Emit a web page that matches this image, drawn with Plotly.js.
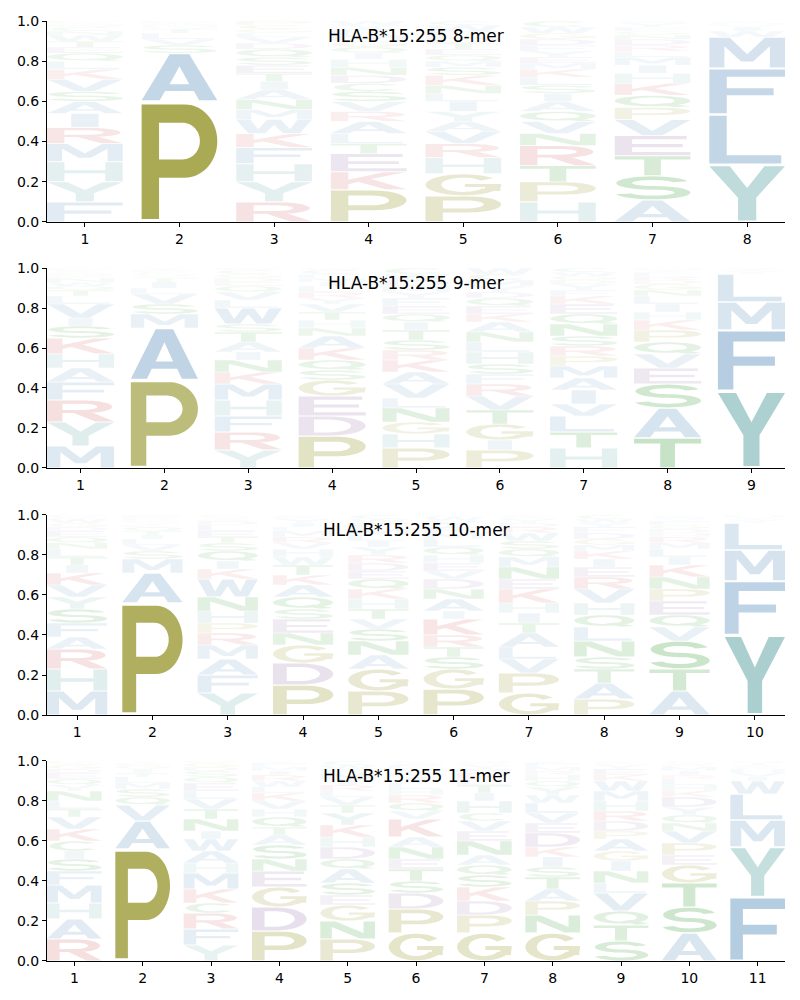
<!DOCTYPE html>
<html><head><meta charset="utf-8">
<script src="https://cdn.plot.ly/plotly-3.0.1.min.js"></script>
<style>body{margin:0;background:#fff}#chart{width:800px;height:1000px}</style>
</head><body><div id="chart"></div>
<script>
// ---------- data: per position, letters listed bottom -> top with frequency ----------
const titles = ['HLA-B*15:255 8-mer','HLA-B*15:255 9-mer','HLA-B*15:255 10-mer','HLA-B*15:255 11-mer'];

const mer8 = [
 [['F',.10],['Y',.10],['H',.10],['M',.09],['R',.08],['I',.07],['A',.06],['S',.05],['V',.06],['K',.05],['L',.04],['Q',.04],['E',.03],['T',.03],['W',.03],['N',.02],['C',.02],['D',.01],['G',.01],['P',.01]],
 [['P',.60],['A',.24],['S',.04],['V',.03],['L',.03],['T',.02],['Q',.01],['M',.01],['G',.01],['E',.01]],
 [['R',.10],['Y',.10],['H',.09],['F',.08],['K',.07],['W',.07],['M',.05],['N',.05],['A',.05],['I',.04],['T',.04],['E',.04],['S',.04],['Q',.04],['D',.03],['V',.03],['L',.02],['G',.02],['C',.02],['P',.02]],
 [['P',.16],['K',.09],['E',.09],['T',.05],['L',.05],['A',.06],['R',.05],['V',.05],['S',.05],['C',.04],['D',.04],['N',.04],['H',.04],['I',.03],['Q',.03],['G',.03],['M',.03],['F',.03],['Y',.02],['W',.02]],
 [['P',.13],['G',.11],['H',.08],['R',.07],['V',.06],['A',.05],['Y',.05],['I',.05],['L',.04],['N',.04],['K',.05],['S',.04],['M',.03],['Q',.03],['E',.03],['T',.03],['D',.03],['F',.03],['W',.03],['C',.02]],
 [['H',.10],['P',.10],['T',.08],['R',.10],['N',.06],['V',.06],['Q',.05],['A',.05],['I',.04],['S',.04],['L',.04],['K',.04],['M',.03],['E',.03],['Y',.03],['F',.03],['D',.03],['G',.03],['W',.03],['C',.03]],
 [['A',.11],['S',.12],['T',.10],['E',.10],['V',.08],['P',.06],['Q',.06],['K',.06],['H',.05],['I',.04],['M',.04],['L',.03],['R',.03],['D',.03],['N',.02],['G',.02],['F',.02],['Y',.02],['W',.01]],
 [['Y',.285],['L',.25],['F',.23],['M',.155],['W',.03],['I',.02],['V',.01],['H',.01],['C',.01]]
];
const mer9 = [
 [['M',.11],['Y',.12],['R',.11],['F',.09],['A',.07],['H',.07],['K',.08],['S',.06],['I',.04],['V',.07],['L',.04],['T',.03],['Q',.02],['W',.02],['N',.02],['E',.01],['D',.01],['G',.01],['C',.01],['P',.01]],
 [['P',.44],['A',.26],['M',.07],['S',.05],['V',.05],['L',.03],['I',.03],['T',.02],['G',.01],['Q',.01],['C',.01],['F',.01],['Y',.01]],
 [['Y',.09],['R',.09],['F',.08],['H',.08],['M',.08],['K',.06],['N',.06],['I',.04],['A',.05],['T',.05],['S',.04],['W',.08],['L',.04],['V',.04],['Q',.03],['E',.02],['D',.02],['G',.02],['C',.02],['P',.01]],
 [['P',.16],['D',.10],['E',.10],['G',.08],['S',.05],['Q',.05],['K',.06],['A',.06],['N',.04],['H',.04],['T',.04],['V',.04],['Y',.03],['R',.03],['L',.03],['I',.02],['M',.02],['F',.02],['C',.02],['W',.01]],
 [['P',.10],['H',.07],['G',.06],['N',.07],['L',.05],['V',.07],['A',.06],['K',.06],['R',.05],['S',.05],['T',.05],['I',.04],['Q',.04],['E',.04],['F',.04],['Y',.03],['M',.03],['D',.03],['W',.03],['C',.03]],
 [['P',.09],['I',.05],['G',.08],['T',.07],['V',.07],['R',.06],['F',.05],['S',.05],['H',.06],['L',.05],['N',.05],['A',.05],['K',.04],['E',.04],['Q',.04],['D',.03],['Y',.03],['M',.03],['C',.03],['W',.03]],
 [['H',.10],['T',.08],['L',.08],['V',.06],['I',.07],['A',.06],['M',.06],['P',.05],['R',.05],['S',.05],['N',.06],['Q',.05],['E',.05],['K',.04],['F',.03],['Y',.03],['D',.02],['G',.02],['W',.02],['C',.02]],
 [['T',.15],['A',.15],['S',.12],['E',.08],['V',.07],['Q',.06],['P',.06],['K',.05],['H',.04],['I',.04],['L',.04],['N',.03],['G',.03],['D',.02],['R',.02],['F',.02],['Y',.01],['M',.01]],
 [['Y',.385],['F',.305],['M',.14],['L',.14],['I',.01],['W',.01],['V',.01]]
];
const mer10 = [
 [['M',.12],['H',.11],['R',.10],['A',.06],['F',.07],['S',.07],['Y',.06],['V',.06],['K',.06],['I',.04],['T',.04],['L',.04],['N',.03],['Q',.03],['E',.03],['D',.02],['G',.02],['W',.02],['C',.01],['P',.01]],
 [['P',.56],['A',.15],['M',.07],['S',.04],['V',.03],['L',.03],['I',.02],['T',.02],['Q',.02],['F',.01],['Y',.01],['G',.01],['K',.01],['R',.01],['E',.01]],
 [['Y',.11],['F',.09],['A',.08],['M',.07],['R',.06],['P',.05],['H',.06],['N',.07],['W',.09],['K',.05],['I',.04],['Q',.05],['S',.04],['T',.03],['E',.03],['L',.03],['D',.02],['G',.01],['V',.01],['C',.01]],
 [['P',.15],['D',.11],['G',.09],['N',.06],['E',.07],['S',.05],['Q',.06],['A',.06],['K',.05],['T',.05],['W',.04],['H',.04],['V',.03],['R',.03],['M',.03],['L',.02],['I',.02],['Y',.02],['F',.01],['C',.01]],
 [['P',.12],['G',.11],['A',.07],['N',.07],['S',.06],['V',.05],['T',.05],['H',.05],['K',.05],['Q',.05],['E',.04],['D',.04],['R',.04],['Y',.04],['I',.03],['L',.03],['M',.03],['F',.03],['W',.02],['C',.02]],
 [['P',.13],['G',.10],['S',.06],['T',.05],['R',.06],['K',.08],['I',.04],['A',.06],['N',.05],['D',.05],['V',.04],['E',.04],['H',.04],['Q',.04],['L',.04],['M',.03],['F',.03],['Y',.03],['W',.02],['C',.01]],
 [['G',.11],['P',.10],['V',.07],['L',.06],['A',.07],['T',.05],['I',.05],['H',.05],['K',.07],['E',.05],['N',.06],['M',.05],['Q',.04],['S',.04],['W',.04],['R',.03],['D',.02],['Y',.02],['F',.01],['C',.01]],
 [['P',.08],['A',.08],['T',.07],['S',.06],['N',.08],['L',.07],['Q',.06],['H',.06],['V',.07],['R',.06],['E',.05],['I',.04],['K',.04],['M',.03],['G',.03],['D',.03],['F',.03],['Y',.02],['W',.02],['C',.02]],
 [['A',.12],['T',.11],['S',.14],['V',.07],['Q',.06],['E',.07],['P',.06],['N',.06],['K',.06],['I',.04],['L',.04],['M',.03],['R',.03],['H',.02],['D',.02],['G',.02],['F',.02],['Y',.01],['W',.01],['C',.01]],
 [['Y',.40],['F',.27],['M',.155],['L',.135],['I',.01],['W',.01],['V',.01],['H',.01]]
];
const mer11 = [
 [['R',.11],['A',.10],['H',.08],['M',.09],['F',.07],['S',.06],['I',.04],['C',.05],['K',.06],['V',.06],['T',.04],['L',.04],['N',.05],['Y',.03],['Q',.03],['E',.03],['D',.02],['G',.02],['W',.01],['P',.01]],
 [['P',.56],['A',.14],['V',.08],['Q',.04],['S',.04],['M',.03],['L',.03],['T',.02],['I',.02],['G',.02],['F',.01],['Y',.01]],
 [['Y',.08],['F',.08],['R',.08],['C',.05],['K',.07],['M',.08],['H',.05],['A',.06],['W',.06],['I',.04],['N',.06],['T',.05],['V',.05],['L',.04],['E',.04],['Q',.03],['S',.03],['D',.02],['G',.02],['P',.01]],
 [['P',.15],['D',.12],['G',.10],['E',.08],['N',.06],['S',.07],['A',.05],['T',.04],['Q',.05],['H',.04],['V',.04],['K',.04],['L',.03],['W',.03],['R',.03],['I',.02],['M',.02],['F',.02],['Y',.01]],
 [['P',.11],['N',.09],['G',.08],['E',.05],['S',.06],['A',.07],['Q',.05],['D',.06],['H',.05],['K',.06],['Y',.06],['T',.04],['V',.04],['L',.03],['R',.03],['I',.03],['M',.03],['F',.02],['W',.02],['C',.02]],
 [['G',.14],['P',.12],['D',.08],['S',.06],['T',.06],['E',.05],['N',.06],['A',.05],['K',.09],['V',.04],['Q',.04],['R',.04],['H',.03],['L',.03],['I',.03],['M',.02],['Y',.02],['F',.02],['W',.01],['C',.01]],
 [['G',.14],['P',.09],['D',.07],['K',.07],['S',.06],['Q',.05],['A',.05],['N',.07],['E',.05],['V',.05],['C',.04],['H',.06],['I',.04],['T',.04],['L',.03],['R',.03],['M',.02],['Y',.02],['F',.01],['W',.01]],
 [['G',.14],['N',.09],['P',.07],['A',.06],['T',.06],['S',.05],['I',.05],['K',.05],['D',.07],['E',.05],['V',.05],['L',.05],['W',.04],['Y',.04],['Q',.03],['H',.03],['R',.02],['M',.02],['F',.02],['C',.01]],
 [['S',.10],['T',.08],['Q',.07],['V',.09],['L',.05],['N',.06],['I',.05],['G',.05],['A',.06],['P',.04],['D',.05],['R',.05],['H',.05],['M',.05],['W',.05],['K',.03],['E',.03],['Y',.02],['F',.01],['C',.01]],
 [['A',.14],['S',.13],['T',.12],['G',.09],['E',.05],['P',.06],['V',.06],['N',.04],['Q',.04],['Y',.04],['D',.05],['K',.03],['H',.03],['L',.03],['R',.02],['I',.02],['M',.02],['F',.01],['W',.01],['C',.01]],
 [['F',.32],['Y',.25],['M',.135],['L',.13],['W',.065],['I',.02],['V',.02],['H',.02],['C',.01],['A',.01],['T',.01],['Q',.01]]
];
const panels = [mer8, mer9, mer10, mer11];

// ---------- styling ----------
const groupColor = {
  A:[70,130,180],V:[70,130,180],L:[70,130,180],I:[70,130,180],M:[70,130,180],F:[70,130,180],W:[70,130,180],
  Y:[80,155,155],H:[80,155,155],
  P:[128,128,0],G:[128,128,0],
  K:[200,70,70],R:[200,70,70],
  D:[125,85,150],E:[125,85,150],
  S:[0,128,0],T:[0,128,0],N:[0,128,0],Q:[0,128,0],C:[0,128,0]
};

// ---------- glyph outlines in a unit box ----------
function arc(cx,cy,rx,ry,a0,a1,n){n=n||28;const p=[];for(let i=0;i<=n;i++){const a=(a0+(a1-a0)*i/n)*Math.PI/180;p.push([cx+rx*Math.cos(a),cy+ry*Math.sin(a)]);}return p;}
function ring(cx,cy,rx,ry,tx,ty,a0,a1){return arc(cx,cy,rx,ry,a0,a1).concat(arc(cx,cy,rx-tx,ry-ty,a1,a0));}
function ell(cx,cy,rx,ry){const p=arc(cx,cy,rx,ry,0,360,40);p.pop();return p;}
function rect(x0,y0,x1,y1){return [[x0,y0],[x1,y0],[x1,y1],[x0,y1]];}
const GL = {
  A:()=>[[[[0,0],[0.24,0],[0.31,0.2],[0.69,0.2],[0.76,0],[1,0],[0.63,1],[0.37,1]],0],[[[0.37,0.35],[0.63,0.35],[0.5,0.74]],1]],
  C:()=>[[ring(0.52,0.5,0.48,0.5,0.21,0.16,42,318),0]],
  D:()=>[[[[0,0],[0.45,0]].concat(arc(0.45,0.5,0.55,0.5,-90,90)).concat([[0,1]]),0],
         [[[0.23,0.16],[0.43,0.16]].concat(arc(0.43,0.5,0.35,0.34,-90,90)).concat([[0.23,0.84]]),1]],
  E:()=>[[[[0,0],[1,0],[1,0.17],[0.23,0.17],[0.23,0.42],[0.9,0.42],[0.9,0.58],[0.23,0.58],[0.23,0.83],[0.95,0.83],[0.95,1],[0,1]],0]],
  F:()=>[[[[0,0],[0.23,0],[0.23,0.41],[0.85,0.41],[0.85,0.57],[0.23,0.57],[0.23,0.83],[1,0.83],[1,1],[0,1]],0]],
  G:()=>[[ring(0.5,0.5,0.5,0.5,0.21,0.16,38,330),0],[rect(0.52,0.39,1,0.54),0],[rect(0.79,0.2,0.99,0.54),0]],
  H:()=>[[[[0,0],[0.23,0],[0.23,0.42],[0.77,0.42],[0.77,0],[1,0],[1,1],[0.77,1],[0.77,0.58],[0.23,0.58],[0.23,1],[0,1]],0]],
  I:()=>[[rect(0.32,0,0.68,1),0]],
  K:()=>[[[[0,0],[0.23,0],[0.23,0.3],[0.36,0.44],[0.72,0],[1,0],[0.53,0.6],[0.98,1],[0.7,1],[0.23,0.56],[0.23,1],[0,1]],0]],
  L:()=>[[[[0,0],[0.95,0],[0.95,0.17],[0.23,0.17],[0.23,1],[0,1]],0]],
  M:()=>[[[[0,0],[0.2,0],[0.2,0.72],[0.42,0.2],[0.58,0.2],[0.8,0.72],[0.8,0],[1,0],[1,1],[0.73,1],[0.5,0.45],[0.27,1],[0,1]],0]],
  N:()=>[[[[0,0],[0.21,0],[0.21,0.68],[0.72,0],[1,0],[1,1],[0.79,1],[0.79,0.32],[0.28,1],[0,1]],0]],
  P:()=>[[[[0,0],[0.23,0],[0.23,0.36],[0.57,0.36]].concat(arc(0.57,0.68,0.43,0.32,-90,90)).concat([[0,1]]),0],
         [[[0.23,0.52],[0.54,0.52]].concat(arc(0.54,0.68,0.23,0.16,-90,90)).concat([[0.23,0.84]]),1]],
  Q:()=>[[ell(0.5,0.54,0.5,0.46),0],[ell(0.5,0.54,0.29,0.3),1],[[[0.5,0.26],[0.7,0.37],[1,0.06],[0.78,0]],0]],
  R:()=>[[[[0,0],[0.23,0],[0.23,0.4],[0.4,0.4],[0.72,0],[1,0],[0.66,0.45]].concat(arc(0.55,0.7,0.42,0.3,-68,90)).concat([[0,1]]),0],
         [[[0.23,0.55],[0.52,0.55]].concat(arc(0.52,0.7,0.23,0.15,-90,90)).concat([[0.23,0.85]]),1]],
  S:()=>[[ring(0.5,0.71,0.48,0.29,0.21,0.16,15,276),0],[ring(0.5,0.29,0.5,0.29,0.21,0.16,-165,96),0]],
  T:()=>[[[[0,0.83],[0,1],[1,1],[1,0.83],[0.61,0.83],[0.61,0],[0.39,0],[0.39,0.83]],0]],
  V:()=>[[[[0,1],[0.25,1],[0.5,0.27],[0.75,1],[1,1],[0.63,0],[0.37,0]],0]],
  W:()=>[[[[0,1],[0.19,1],[0.29,0.3],[0.41,1],[0.59,1],[0.71,0.3],[0.81,1],[1,1],[0.84,0],[0.62,0],[0.5,0.62],[0.38,0],[0.16,0]],0]],
  Y:()=>[[[[0,1],[0.27,1],[0.5,0.6],[0.73,1],[1,1],[0.62,0.42],[0.62,0],[0.38,0],[0.38,0.42]],0]]
};
function orient(pts, hole){
  let a=0;for(let i=0;i<pts.length;i++){const p=pts[i],q=pts[(i+1)%pts.length];a+=p[0]*q[1]-q[0]*p[1];}
  const ccw=a>0; if(ccw===!!hole) return pts.slice().reverse(); return pts;
}
function glyphPath(aa,xc,w,y0,h){
  let s='';
  for(const [pts,hole] of GL[aa]()){
    const p=orient(pts,hole);
    s+='M'+p.map(([u,v])=>(xc-w/2+u*w).toFixed(4)+','+(y0+v*h).toFixed(5)).join('L')+'Z';
  }
  return s;
}

// ---------- layout ----------
const domains=[[0.7862,1],[0.5245,0.7372],[0.2617,0.4745],[0,0.2128]];
const font={family:'DejaVu Sans, sans-serif',size:14,color:'#000'};
const layout={width:800,height:1000,margin:{l:47,r:15,t:21,b:39},paper_bgcolor:'#fff',plot_bgcolor:'#fff',
  showlegend:false,shapes:[],annotations:[]};
const traces=[];
panels.forEach((data,k)=>{
  const n=data.length, sfx=k===0?'':String(k+1);
  const xr='x'+sfx, yr='y'+sfx;
  layout['xaxis'+sfx]={domain:[0,1],anchor:yr,range:[0.6,n+0.4],tickmode:'array',
    tickvals:data.map((_,i)=>i+1),ticktext:data.map((_,i)=>String(i+1)),ticks:'outside',ticklen:4,tickwidth:1,
    tickcolor:'#000',showline:true,linecolor:'#000',linewidth:1,showgrid:false,zeroline:false,tickfont:font,fixedrange:true};
  layout['yaxis'+sfx]={domain:domains[k],anchor:xr,range:[0,1],tickmode:'array',tickvals:[0,0.2,0.4,0.6,0.8,1],
    ticktext:['0.0','0.2','0.4','0.6','0.8','1.0'],ticks:'outside',ticklen:4,tickwidth:1,tickcolor:'#000',
    showline:true,linecolor:'#000',linewidth:1,showgrid:false,zeroline:false,tickfont:font,fixedrange:true};
  traces.push({type:'scatter',x:[1],y:[0],xaxis:xr,yaxis:yr,mode:'markers',marker:{opacity:0},hoverinfo:'skip'});
  data.forEach((col,i)=>{
    let y=0;
    col.forEach(([aa,f])=>{
      const pad=0.025*f, c=groupColor[aa], al=Math.min(1,Math.pow(f,0.8));
      layout.shapes.push({type:'path',xref:xr,yref:yr,layer:'above',fillrule:'nonzero',
        path:glyphPath(aa,i+1,0.8,y+pad,f-2*pad),
        fillcolor:`rgba(${c[0]},${c[1]},${c[2]},${al.toFixed(3)})`,line:{width:0}});
      y+=f;
    });
  });
  layout.annotations.push({text:titles[k],xref:xr+' domain',yref:yr+' domain',x:0.5,y:0.925,
    xanchor:'center',yanchor:'middle',showarrow:false,font:{family:'DejaVu Sans, sans-serif',size:17,color:'#000'}});
});
Plotly.newPlot('chart',traces,layout,{staticPlot:true,displayModeBar:false});
</script></body></html>
